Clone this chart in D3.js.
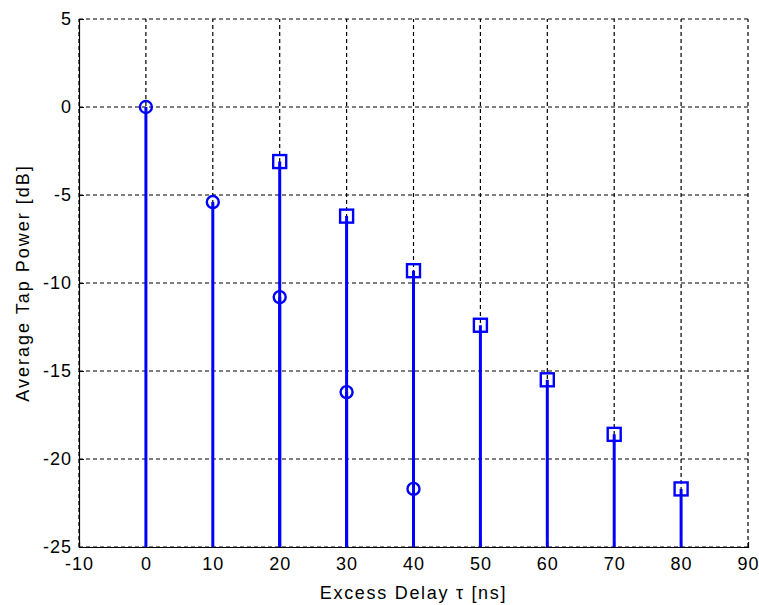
<!DOCTYPE html>
<html>
<head>
<meta charset="utf-8">
<script src="https://cdn.jsdelivr.net/npm/d3@7"></script>
<style>
  body { margin: 0; background: #fff; }
  text { font-family: "Liberation Sans", Arial, sans-serif; fill: #000; }
</style>
</head>
<body>
<div id="chart"></div>
<script>
// circle-marker series (delay ns, power dB)
const circleDelays = [0, 10, 20, 30, 40];
const circlePowers = [0, -5.4, -10.8, -16.2, -21.7];
// square-marker series
const squareDelays = [20, 30, 40, 50, 60, 70, 80];
const squarePowers = [-3.1, -6.2, -9.3, -12.4, -15.5, -18.6, -21.7];
const xTicks = [-10, 0, 10, 20, 30, 40, 50, 60, 70, 80, 90];
const yTicks = [5, 0, -5, -10, -15, -20, -25];

const W = 759, H = 605;
const margin = { top: 19, right: 11, bottom: 58, left: 79 };

const svg = d3.select("#chart").append("svg")
  .attr("width", W).attr("height", H);

const x = d3.scaleLinear().domain([-10, 90]).range([margin.left, W - margin.right]);
const y = d3.scaleLinear().domain([-25, 5]).range([H - margin.bottom, margin.top]);

// grid
svg.append("g").selectAll("line").data(xTicks).join("line")
  .attr("x1", d => x(d)).attr("x2", d => x(d))
  .attr("y1", y(-25)).attr("y2", y(5))
  .attr("stroke", "#000").attr("stroke-width", 1.2).attr("stroke-dasharray", "4,3");
svg.append("g").selectAll("line").data(yTicks).join("line")
  .attr("x1", x(-10)).attr("x2", x(90))
  .attr("y1", d => y(d)).attr("y2", d => y(d))
  .attr("stroke", "#000").attr("stroke-width", 1.2).attr("stroke-dasharray", "4,3");

// axes (plain hyphen minus like the original)
const fmt = d => String(d);
const xAxis = svg.append("g")
  .attr("transform", `translate(0,${y(-25)})`)
  .call(d3.axisBottom(x).tickValues(xTicks).tickSize(-5).tickPadding(10).tickFormat(fmt));
const yAxis = svg.append("g")
  .attr("transform", `translate(${x(-10)},0)`)
  .call(d3.axisLeft(y).tickValues(yTicks).tickSize(-5).tickPadding(7).tickFormat(fmt));
[xAxis, yAxis].forEach(g => {
  g.select(".domain").attr("stroke", "#000").attr("stroke-width", 1.2);
  g.selectAll(".tick line").attr("stroke", "#000");
  g.selectAll("text")
    .style("font-size", "18px")
    .style("letter-spacing", "1px")
    .style("font-family", "'Liberation Sans', Arial, sans-serif");
});

// stems
const blue = "#0000ff";
const stems = svg.append("g");
function drawStems(xs, ys) {
  stems.selectAll(null).data(xs).join("line")
    .attr("x1", d => x(d)).attr("x2", d => x(d))
    .attr("y1", y(-25)).attr("y2", (d, i) => y(ys[i]))
    .attr("stroke", blue).attr("stroke-width", 3);
}
drawStems(squareDelays, squarePowers);
drawStems(circleDelays, circlePowers);

// markers
svg.append("g").selectAll("circle").data(circleDelays).join("circle")
  .attr("cx", d => x(d)).attr("cy", (d, i) => y(circlePowers[i]))
  .attr("r", 6).attr("fill", "none")
  .attr("stroke", blue).attr("stroke-width", 2.4);
svg.append("g").selectAll("rect").data(squareDelays).join("rect")
  .attr("x", d => x(d) - 6.5).attr("y", (d, i) => y(squarePowers[i]) - 6.5)
  .attr("width", 13).attr("height", 13)
  .attr("fill", "none").attr("stroke", blue).attr("stroke-width", 2.4);

// labels
svg.append("text")
  .attr("x", (x(-10) + x(90)) / 2).attr("y", 599)
  .attr("text-anchor", "middle").style("font-size", "18px").style("letter-spacing", "1.7px")
  .text("Excess Delay τ [ns]");
svg.append("text")
  .attr("transform", `translate(29,${(y(-25) + y(5)) / 2}) rotate(-90)`)
  .attr("text-anchor", "middle").style("font-size", "18px").style("letter-spacing", "2px")
  .text("Average Tap Power [dB]");
</script>
</body>
</html>
